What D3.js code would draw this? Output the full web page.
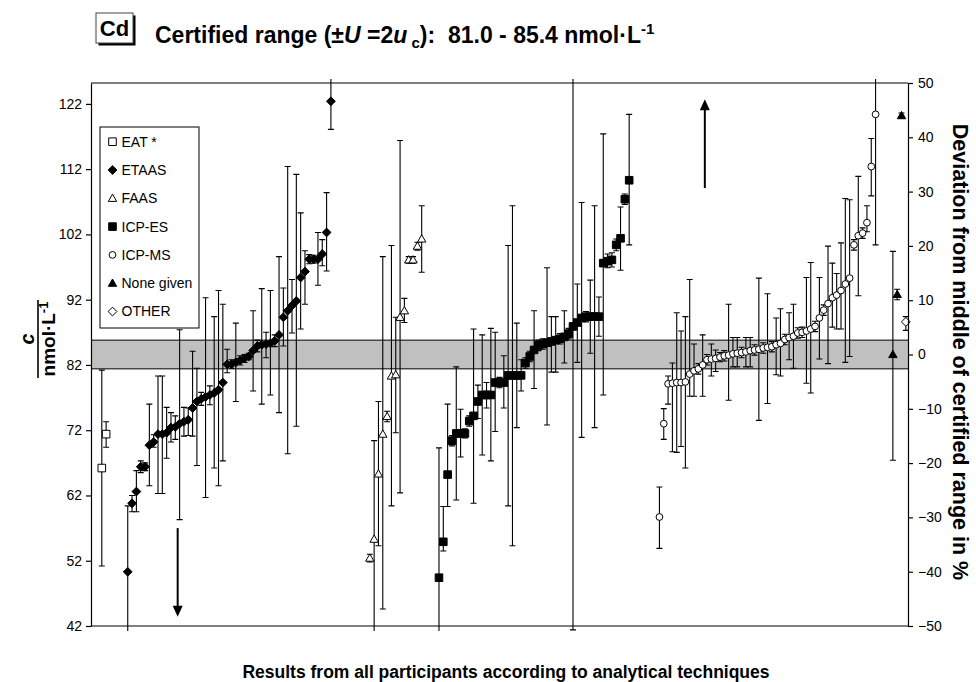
<!DOCTYPE html>
<html>
<head>
<meta charset="utf-8">
<script src="https://cdn.jsdelivr.net/npm/d3@7/dist/d3.min.js"></script>
<style>
  body { margin: 0; background: #fff; }
  svg text { font-family: "Liberation Sans", Arial, sans-serif; fill: #000; }
</style>
</head>
<body>
<svg id="chart" width="976" height="682"></svg>
<script>
// one slot per participant, grouped by technique
var techniques = ["EAT *", "ETAAS", "FAAS", "ICP-ES", "ICP-MS", "None given", "OTHER"];
var firstSlot = [2, 8, 64, 80, 131, 185, 188];
var slotCount = 189;

// results in nmol/L, with low and high end of the stated uncertainty
var eatVal = [66.2, 71.4];
var eatLo = [51.2, 69.4];
var eatHi = [81.2, 73.3];

var etaasVal = [50.3, 60.8, 62.6, 66.4, 66.4, 69.7, 70.2, 71.4, 71.4, 71.6, 72.4, 72.5, 73.0, 73.3, 73.6, 75.4,
    76.4, 76.8, 77.1, 77.4, 77.7, 78.2, 79.3, 82.1, 82.1, 82.4, 82.7, 83.0, 83.3, 84.2, 84.9, 85.1,
    85.2, 85.3, 85.7, 86.6, 89.3, 90.3, 91.1, 91.8, 95.4, 96.3, 98.2, 98.2, 98.2, 99.0, 102.3, 122.4];
var etaasLo = [38, 59.5, 59.5, 65.5, 65.8, 63.5, 69.4, 62.3, 62.3, 67.7, 70.2, 70.6, 58.3, 71.1, 71.2, 71.1,
    66.6, 75.8, 61.7, 75.9, 66.2, 63.5, 67.3, 80.8, 81.5, 76.4, 82.0, 82.4, 82.8, 78.0, 84.0, 76.0,
    83.1, 77.4, 84.8, 74.7, 84.9, 68.4, 86.9, 72.6, 87.5, 91.3, 97.5, 97.6, 94.2, 97.2, 96.4, 118.1];
var etaasHi = [60.4, 62.0, 65.8, 67.3, 67.0, 76.0, 71.3, 80.3, 80.3, 75.5, 74.7, 74.2, 87.4, 75.5, 75.4, 84.1,
    81.5, 77.8, 92.3, 78.8, 89.4, 93.4, 91.3, 84.4, 82.8, 88.4, 83.4, 83.6, 83.8, 90.3, 85.8, 93.7,
    87.0, 93.4, 86.6, 98.6, 93.8, 112.4, 95.1, 111.2, 105.3, 99.5, 98.9, 98.8, 102.3, 101.2, 108.4, 127];

var faasVal = [52.4, 55.3, 65.3, 71.4, 74.1, 80.3, 80.5, 89.3, 90.3, 98.1, 98.1, 100.2, 101.3];
var faasLo = [51.8, 40, 54.3, 44.6, 73.3, 60.4, 71.6, 62.4, 88.5, 97.6, 97.6, 99.6, 96.2];
var faasHi = [53.0, 70.4, 76.4, 98.6, 74.9, 100.3, 89.3, 116.4, 92.2, 98.6, 98.6, 100.8, 106.4];

var icpesVal = [49.4, 54.9, 65.2, 70.4, 71.5, 71.5, 71.5, 73.4, 74.2, 76.4, 77.4, 77.4, 77.4, 79.3, 79.3,
    79.3, 80.4, 80.4, 80.4, 80.4, 82.3, 83.3, 84.3, 85.0, 85.2, 85.4, 85.6, 85.8, 86.0, 86.3,
    86.8, 87.9, 88.5, 89.2, 89.4, 89.4, 89.4, 89.4, 97.6, 97.9, 98.1, 100.4, 101.4, 107.4, 110.3];
var icpesLo = [40, 53.5, 60.3, 69.6, 61.3, 67.9, 70.8, 72.6, 60.8, 73.8, 68.2, 75.4, 67.3, 71.8, 78.5,
    75.4, 60.4, 54.3, 72.4, 78.0, 81.5, 82.5, 78.4, 84.2, 84.4, 72.8, 80.9, 80.9, 85.2, 82.3,
    86.0, 41.4, 82.4, 70.9, 88.6, 83.8, 72.4, 86.4, 77.4, 96.9, 97.0, 99.5, 96.5, 106.6, 100.4];
var icpesHi = [69.3, 60.3, 76.0, 71.2, 81.7, 75.2, 72.2, 74.2, 87.5, 78.9, 86.6, 79.3, 87.6, 87.0, 80.1,
    83.4, 100.3, 106.4, 88.4, 82.8, 83.1, 84.1, 90.3, 85.8, 86.0, 96.9, 89.4, 89.4, 86.8, 90.3,
    87.6, 127, 94.4, 106.9, 90.2, 95.0, 106.4, 92.4, 117.4, 99.0, 99.2, 101.3, 106.2, 108.2, 120.4];

var icpmsVal = [58.7, 73.0, 79.1, 79.2, 79.3, 79.3, 79.4, 80.6, 81.1, 81.4, 82.0, 82.8, 82.9, 83.0, 83.2,
    83.4, 83.5, 83.7, 83.8, 83.9, 84.0, 84.2, 84.3, 84.4, 84.6, 84.7, 84.8, 85.1, 85.3, 85.9,
    86.2, 86.4, 86.9, 87.0, 87.2, 87.5, 87.9, 89.2, 90.4, 91.4, 92.3, 92.7, 93.4, 94.4, 95.3,
    100.4, 101.8, 102.2, 103.8, 112.4, 120.4];
var icpmsLo = [53.9, 70.6, 76.0, 68.7, 68.6, 69.5, 66.2, 77.2, 77.2, 80.6, 77.2, 82.0, 80.3, 81.0, 82.5,
    82.6, 76.6, 81.7, 81.7, 83.1, 81.7, 81.7, 83.5, 73.5, 83.8, 76.1, 84.0, 80.5, 80.3, 85.1,
    82.8, 81.5, 86.1, 86.2, 79.2, 77.7, 87.1, 82.9, 89.6, 82.2, 87.8, 87.5, 87.5, 82.4, 83.3,
    99.6, 92.6, 101.4, 102.4, 107.9, 100.4];
var icpmsHi = [63.3, 75.3, 80.3, 82.3, 90.0, 87.2, 89.4, 95.1, 85.2, 82.2, 86.6, 83.6, 85.2, 84.3, 83.9,
    84.2, 91.3, 86.2, 86.2, 84.7, 86.2, 86.2, 85.1, 95.3, 85.4, 92.9, 85.6, 89.2, 90.6, 86.7,
    90.0, 91.3, 87.7, 87.8, 95.4, 97.7, 88.7, 95.4, 91.2, 100.2, 97.6, 96.0, 100.7, 107.5, 107.3,
    101.2, 110.9, 103.0, 106.4, 116.7, 127];

var noneVal = [83.6, 92.8, 120.2];
var noneLo = [67.4, 92.0, 119.8];
var noneHi = [99.4, 93.6, 120.6];

var otherVal = [88.6];
var otherLo = [87.3];
var otherHi = [89.4];

var certRange = [81.0, 85.4];
var leftTicks = [42, 52, 62, 72, 82, 92, 102, 112, 122];
var rightTicks = [-50, -40, -30, -20, -10, 0, 10, 20, 30, 40, 50];

// off-scale results: slot position, start and tip in nmol/L
var arrowAt = [20.05, 142.0];
var arrowFrom = [57.0, 109.1];
var arrowTo = [43.4, 122.7];

var svg = d3.select("#chart");
var plot = {left: 91, right: 908, top: 83, bottom: 626};

var x = d3.scaleLinear().domain([0, slotCount]).range([plot.left, plot.right]);
var y = d3.scaleLinear().domain([42, 125.2]).range([plot.bottom, plot.top]);
var yPct = d3.scaleLinear().domain([-50, 50]).range([plot.bottom, plot.top]);

var series = [
    {shape: "square", open: true, val: eatVal, lo: eatLo, hi: eatHi},
    {shape: "diamond", open: false, val: etaasVal, lo: etaasLo, hi: etaasHi},
    {shape: "triangle", open: true, val: faasVal, lo: faasLo, hi: faasHi},
    {shape: "square", open: false, val: icpesVal, lo: icpesLo, hi: icpesHi},
    {shape: "circle", open: true, val: icpmsVal, lo: icpmsLo, hi: icpmsHi},
    {shape: "triangle", open: false, val: noneVal, lo: noneLo, hi: noneHi},
    {shape: "diamond", open: true, val: otherVal, lo: otherLo, hi: otherHi}
];

var points = [];
series.forEach(function (s, k) {
    s.val.forEach(function (v, j) {
	points.push({k: k, slot: firstSlot[k] + j, v: v, lo: s.lo[j], hi: s.hi[j]});
    });
});

function markerPath(shape) {
    if (shape == "circle") return d3.symbol(d3.symbolCircle, 36)();
    if (shape == "square") return "M-3.8,-3.8H3.8V3.8H-3.8Z";
    if (shape == "diamond") return "M0,-4.4L4.4,0L0,4.4L-4.4,0Z";
    return "M0,-4.2L4.2,3.1L-4.2,3.1Z";
}

function drawMarker(sel, s) {
    sel.attr("d", markerPath(s.shape))
	.attr("fill", s.open ? "#fff" : "#000")
	.attr("stroke", "#000")
	.attr("stroke-width", 1);
}

// certified range band, drawn against the % axis
var mid = (certRange[0] + certRange[1]) / 2;
var bandPct = certRange.map(function (c) { return (c - mid) / mid * 100; });
svg.append("rect")
    .attr("x", plot.left)
    .attr("width", plot.right - plot.left)
    .attr("y", yPct(bandPct[1]))
    .attr("height", yPct(bandPct[0]) - yPct(bandPct[1]))
    .attr("fill", "#c0c0c0");
svg.selectAll(".bandline").data(bandPct).join("line")
    .attr("x1", plot.left).attr("x2", plot.right)
    .attr("y1", function (d) { return yPct(d); })
    .attr("y2", function (d) { return yPct(d); })
    .attr("stroke", "#000").attr("stroke-width", 1);

svg.append("clipPath").attr("id", "barclip")
    .append("rect")
    .attr("x", plot.left).attr("y", plot.top - 4)
    .attr("width", plot.right - plot.left).attr("height", plot.bottom - plot.top + 9);

// error bars
svg.append("g").attr("clip-path", "url(#barclip)")
    .selectAll("path").data(points).join("path")
    .attr("d", function (d) {
	var cx = x(d.slot + 0.5), y1 = y(d.lo), y2 = y(d.hi);
	return "M" + (cx - 3) + "," + y1 + "H" + (cx + 3) +
	    "M" + cx + "," + y1 + "V" + y2 +
	    "M" + (cx - 3) + "," + y2 + "H" + (cx + 3);
    })
    .attr("fill", "none")
    .attr("stroke", "#000")
    .attr("stroke-width", 1.1);

// markers
svg.append("g").selectAll("path").data(points).join("path")
    .each(function (d) { drawMarker(d3.select(this), series[d.k]); })
    .attr("transform", function (d) { return "translate(" + x(d.slot + 0.5) + "," + y(d.v) + ")"; });

// arrows for results off the scale
arrowAt.forEach(function (a, i) {
    var ax = x(a), y0 = y(arrowFrom[i]), y1 = y(arrowTo[i]);
    var dir = y1 > y0 ? 1 : -1;
    svg.append("line")
	.attr("x1", ax).attr("x2", ax)
	.attr("y1", y0).attr("y2", y1 - dir * 8)
	.attr("stroke", "#000").attr("stroke-width", 2);
    svg.append("path")
	.attr("d", "M" + ax + "," + y1 + "L" + (ax - 5) + "," + (y1 - dir * 11) + "L" + (ax + 5) + "," + (y1 - dir * 11) + "Z")
	.attr("fill", "#000");
});

// axes and frame
var leftAxis = svg.append("g")
    .attr("transform", "translate(" + plot.left + ",0)")
    .call(d3.axisLeft(y).tickValues(leftTicks).tickSize(5).tickSizeOuter(0).tickPadding(4));
var rightAxis = svg.append("g")
    .attr("transform", "translate(" + plot.right + ",0)")
    .call(d3.axisRight(yPct).tickValues(rightTicks).tickSize(5).tickSizeOuter(0).tickPadding(5));
[leftAxis, rightAxis].forEach(function (ax) {
    ax.attr("font-size", 14).attr("font-family", "Liberation Sans, Arial, sans-serif");
    ax.selectAll("path, line").attr("stroke", "#000").attr("stroke-width", 1.2);
    ax.selectAll("text").attr("fill", "#000");
});
svg.append("line").attr("x1", plot.left).attr("x2", plot.right)
    .attr("y1", plot.top).attr("y2", plot.top).attr("stroke", "#000").attr("stroke-width", 1.2);
svg.append("line").attr("x1", plot.left).attr("x2", plot.right)
    .attr("y1", plot.bottom).attr("y2", plot.bottom).attr("stroke", "#000").attr("stroke-width", 1.2);

// legend
var legend = svg.append("g");
legend.append("rect")
    .attr("x", 100).attr("y", 127).attr("width", 99).attr("height", 201)
    .attr("fill", "#fff").attr("stroke", "#000").attr("stroke-width", 1);
techniques.forEach(function (t, k) {
    var ly = 141.7 + k * 28.3;
    legend.append("path")
	.call(drawMarker, series[k])
	.attr("transform", "translate(112.5," + ly + ")");
    legend.append("text")
	.attr("x", 121.5).attr("y", ly).attr("dy", "0.35em")
	.style("font-size", "14px")
	.text(t);
});

// title
svg.append("rect").attr("x", 98.5).attr("y", 15.5).attr("width", 37).attr("height", 30).attr("fill", "#000");
svg.append("rect").attr("x", 96).attr("y", 13).attr("width", 37).attr("height", 30)
    .attr("fill", "#fff").attr("stroke", "#444").attr("stroke-width", 1);
svg.append("text").attr("x", 114.5).attr("y", 36).attr("text-anchor", "middle")
    .style("font-size", "22px").style("font-weight", "bold").text("Cd");

var title = svg.append("text").attr("x", 155).attr("y", 43)
    .style("font-size", "23px").style("font-weight", "bold").style("white-space", "pre");
title.append("tspan").text("Certified range (±");
title.append("tspan").style("font-style", "italic").text("U");
title.append("tspan").text(" =2");
title.append("tspan").style("font-style", "italic").text("u");
title.append("tspan").attr("dy", 5).style("font-size", "15px").text(" c");
title.append("tspan").attr("dy", -5).text("):  81.0 - 85.4 nmol·L");
title.append("tspan").attr("dy", -9).style("font-size", "15px").text("-1");

// axis titles
var yTitle = svg.append("g").attr("transform", "translate(0,339)");
yTitle.append("text")
    .attr("transform", "translate(34,0) rotate(-90)")
    .attr("text-anchor", "middle")
    .style("font-size", "20px").style("font-weight", "bold").style("font-style", "italic")
    .text("c");
yTitle.append("line")
    .attr("x1", 38).attr("x2", 38).attr("y1", -39).attr("y2", 39)
    .attr("stroke", "#000").attr("stroke-width", 1.6);
var unit = yTitle.append("text")
    .attr("transform", "translate(55,0) rotate(-90)")
    .attr("text-anchor", "middle")
    .style("font-size", "19px").style("font-weight", "bold");
unit.append("tspan").text("nmol·L");
unit.append("tspan").attr("dy", -7).style("font-size", "13px").text("-1");

svg.append("text")
    .attr("transform", "translate(953,352) rotate(90)")
    .attr("text-anchor", "middle")
    .style("font-size", "21.5px").style("font-weight", "bold")
    .text("Deviation from middle of certified range in %");

svg.append("text")
    .attr("x", 506).attr("y", 678)
    .attr("text-anchor", "middle")
    .style("font-size", "17.5px").style("font-weight", "bold")
    .text("Results from all participants according to analytical techniques");
</script>
</body>
</html>
